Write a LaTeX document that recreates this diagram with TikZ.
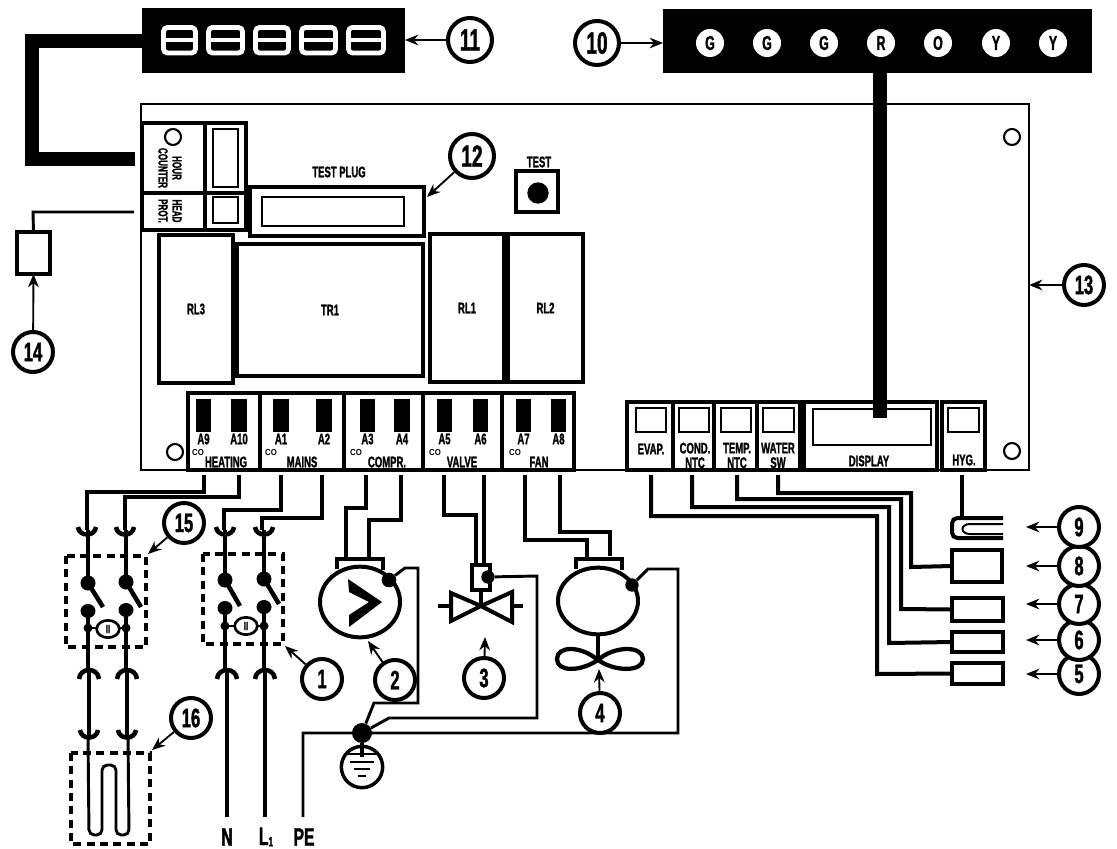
\documentclass[tikz,border=0pt]{standalone}
\usepackage{fontspec}
\setmainfont{Liberation Sans}
\newfontfamily\lab[FakeStretch=0.62,BoldFeatures={FakeBold=1.3}]{Liberation Sans}
\newfontfamily\labw[FakeStretch=0.9]{Liberation Sans}
\usetikzlibrary{arrows.meta,shapes.geometric}
\tikzset{
 wire/.style={line width=3pt,line cap=butt,line join=miter},
 thinwire/.style={line width=2.2pt,line join=miter},
 heavy/.style={line width=2.8pt,draw,fill=white},
 pane/.style={line width=1.4pt,draw},
 solid box/.style={fill=black,draw=none},
 cable/.style={line width=10pt,line join=miter},
 dbox/.style={line width=3pt,dash pattern=on 6pt off 4pt},
 tl/.style={font=\lab\bfseries\fontsize{11.5}{11}\selectfont,inner sep=0pt,outer sep=0pt,align=center},
 tlr/.style={font=\lab\bfseries\fontsize{9.8}{10.5}\selectfont,inner sep=0pt,outer sep=0pt,align=center,rotate=-90},
 tiny/.style={font=\labw\bfseries\fontsize{6.5}{6.5}\selectfont,inner sep=0pt},
 call/.style={circle,draw,line width=3pt,fill=white,minimum size=30pt,inner sep=0pt,font=\lab\bfseries\fontsize{20}{20}\selectfont},
 bigcall/.style={call,minimum size=33pt,font=\lab\bfseries\fontsize{23}{23}\selectfont},
 leader/.style={line width=1.4pt,-{Stealth[length=10pt,width=8pt]}},
 hole/.style={circle,draw,line width=1.6pt,minimum size=12pt,inner sep=0pt,fill=white},
 jdot/.style={circle,fill=black,inner sep=0pt},
 letter/.style={circle,fill=white,minimum size=21pt,inner sep=0pt,font=\lab\bfseries\fontsize{15}{15}\selectfont},
 bottomlab/.style={inner sep=0pt,font=\lab\bfseries\fontsize{19}{19}\selectfont}
}
\newcommand\bx[6]{\pgfmathsetmacro\bxw{(#4-#2)*0.75}\pgfmathsetmacro\bxh{(#5-#3)*0.75}%
 \node[#6,minimum width=\bxw pt,minimum height=\bxh pt,inner sep=0pt,outer sep=0pt] (#1) at ({(#2+#4)/2},{(#3+#5)/2}) {};}
\newcommand\upcup[2]{\draw[line width=3.4pt] ({#1-9},{#2}) .. controls ({#1-8},{#2+10}) and ({#1+8},{#2+10}) .. ({#1+9},{#2});}
\newcommand\dncup[2]{\draw[line width=3.4pt] ({#1-10},{#2+9}) .. controls ({#1-9},{#2-3}) and ({#1+9},{#2-3}) .. ({#1+10},{#2+9});}
\newcommand\pole[7]{% x, cup y, dot1 y, blade end x, blade end y, dot2 y, small y
 \draw[wire] (#1,#2) -- (#1,#3);
 \fill (#1,#3) circle (7.5);
 \draw[line width=3.4pt] (#1,#3) -- (#4,#5);
 \fill (#1,#6) ellipse (7.5 and 7);
 \fill (#1,#7) circle (4.5);
 \draw[wire] (#1,#6) -- (#1,670);
}
\newcommand\digit[2]{\draw[white,line width=3.6pt,rounded corners=3pt] ({#1+2.5},27.5) rectangle ({#2-2.5},53);
 \draw[white,line width=3.2pt] ({#1+3},40) -- ({#2-3},40);}
\begin{document}
\begin{tikzpicture}[x=0.75pt,y=-0.75pt]
\useasboundingbox (0,0) rectangle (1117,849);
\fill[white] (0,0) rectangle (1117,849);
% ---- board
\bx{board}{141}{104}{1029}{470}{draw,line width=1.1pt}
% ---- displays
\bx{hourdisp}{142}{8}{405}{73}{solid box}
\digit{161}{198}\digit{206}{245}\digit{253}{291}\digit{299}{338}\digit{346}{386}
\bx{leddisp}{663}{9}{1092}{73}{solid box}
\foreach \nm/\x/\t in {a/710/G,b/767/G,c/824/G,d/881/R,e/938/O,f/996/Y,g/1053/Y}
  \node[letter] (led\nm) at (\x,43) {\t};
% ---- hour counter block
\bx{hcblock}{142}{123}{246}{230}{heavy}
\draw[line width=3pt] (205,123) -- (205,230) (142,193) -- (246,193);
\bx{hcpane}{213}{129}{238}{187}{pane}
\bx{hppane}{213}{197}{238}{223}{pane}
\node[hole] (hchole) at (173,137) {};
\node[tlr] (hclabel) at (170,168) {HOUR\\COUNTER};
\node[tlr] (hplabel) at (170,211) {HEAD\\PROT.};
% ---- test plug
\node[tl] (tplabel) at (339,172) {TEST PLUG};
\bx{tplug}{250}{187}{424}{236}{heavy}
\bx{tplugin}{262}{197}{404}{226}{pane}
\node[tl] (testlabel) at (539,162) {TEST};
\bx{testbtn}{516}{171}{558}{212}{heavy}
\node[jdot,minimum size=16pt] (testdot) at (538,193) {};
% ---- relays
\bx{rl3}{159}{235}{233}{383}{heavy}\node[tl] at (rl3) {RL3};
\bx{tr1}{237}{244}{423}{376}{heavy}\node[tl] at (tr1) {TR1};
\bx{rl1}{430}{234}{504}{382}{heavy}\node[tl] at (rl1) {RL1};
\bx{rl2}{508}{234}{583}{382}{heavy}\node[tl] at (rl2) {RL2};
% ---- holes
\node[hole] (h1) at (175,452) {};
\node[hole] (h2) at (1012,451) {};
\node[hole] (h3) at (1012,137) {};
% ---- main terminal row
\bx{trow}{188}{393}{574}{470}{heavy}
\foreach \x in {260,344,423,502} \draw[line width=3pt] (\x,393) -- (\x,470);
\foreach \nm/\a/\b/\t in {A9/196/211/A9,A10/231/247/A10,A1/273/289/A1,A2/316/332/A2,A3/360/375/A3,A4/394/410/A4,A5/437/452/A5,A6/473/488/A6,A7/516/531/A7,A8/551/566/A8}{
  \bx{pin\nm}{\a}{399}{\b}{432}{solid box}
  \node[tl] (lab\nm) at ({(\a+\b)/2},439) {\t};
}
\foreach \x in {198,271,356,435,515} \node[tiny] at (\x,453) {CO};
\node[tl] at (226,462) {HEATING};
\node[tl] at (302,462) {MAINS};
\node[tl] at (387,462) {COMPR.};
\node[tl] at (462,462) {VALVE};
\node[tl] at (539,462) {FAN};
% ---- right terminal row
\bx{rrow}{627}{402}{800}{470}{heavy}
\foreach \x in {673,714,757} \draw[line width=3pt] (\x,402) -- (\x,470);
\bx{dblock}{804}{402}{937}{470}{heavy}
\bx{hblock}{942}{402}{985}{470}{heavy}
\bx{pe}{636}{408}{666}{432}{pane}
\bx{pc}{679}{408}{709}{432}{pane}
\bx{pt}{721}{408}{751}{432}{pane}
\bx{pw}{763}{408}{794}{432}{pane}
\bx{pd}{813}{409}{931}{445}{pane}
\bx{ph}{948}{408}{979}{432}{pane}
\node[tl] at (651,449) {EVAP.};
\node[tl] at (695,455.5) {COND.\\NTC};
\node[tl] at (737,455.5) {TEMP.\\NTC};
\node[tl] at (778,455.5) {WATER\\SW};
\node[tl] at (869,461) {DISPLAY};
\node[tl] at (964,460) {HYG.};
% ---- heavy cables
\coordinate (hcend) at (135,159);
\coordinate (dispend) at (880,418);
\draw[cable] (hourdisp.west |- 0,41) -- (32,41) -- (32,159) -- (hcend);
\draw[cable] (880,73) -- (dispend);
% ---- head prot sensor
\bx{s14}{17}{232}{50}{274}{heavy}
\coordinate (hp) at (134,212);
\draw[thinwire] (hp) -- (33,212) -- (s14.north);
% ---- terminal stubs
\foreach \n/\x in {tA9/204,tA10/239,tA1/281,tA2/322,tA3/366,tA4/401,tA5/444,tA6/484,tA7/525,tA8/560,tEv/651,tCo/692,tTe/737,tWa/778,tHy/962}
  \coordinate (\n) at (\x,475);
% ---- dashed boxes
\draw[dbox] (66,556) rectangle (146,647);
\draw[dbox] (203,554) rectangle (283,644);
\draw[dbox] (71,753) rectangle (150,844);
% ---- heating wires and switch
\draw[wire] (tA9) -- (204,492) -- (87,492) -- (87,530);
\draw[wire] (tA10) -- (239,497) -- (125,497) -- (125,530);
\upcup{87}{527}\upcup{125}{527}
\pole{88}{530}{583}{103}{607}{611}{628}
\pole{126}{530}{582}{141}{607}{610}{628}
\draw[line width=1.3pt] (88,628) -- (96,628) (120,628) -- (126,628);
\node[ellipse,draw,line width=2pt,minimum width=17pt,minimum height=13pt,inner sep=0pt,font=\lab\bfseries\fontsize{9}{9}\selectfont,fill=white] (ii15) at (108,629) {II};
\dncup{89}{670}\dncup{127}{670}
\draw[line width=2.4pt] (89,672) -- (89,735) (127,672) -- (127,735);
\upcup{89}{730}\upcup{127}{730}
% heater element
\draw[line width=2.2pt,rounded corners=4pt] (88,735) -- (89,835) -- (102,835) -- (102,765) -- (116,765) -- (116,835) -- (129,835) -- (128,735);
% ---- mains wires and switch
\draw[wire] (tA1) -- (281,510) -- (224,510) -- (224,530);
\draw[wire] (tA2) -- (322,518) -- (262,518) -- (262,530);
\upcup{225}{527}\upcup{264}{527}
\pole{225}{530}{580}{240}{606}{608}{626}
\pole{264}{530}{579}{279}{604}{607}{626}
\draw[line width=1.3pt] (225,626) -- (235,626) (258,626) -- (264,626);
\node[ellipse,draw,line width=2pt,minimum width=17pt,minimum height=13pt,inner sep=0pt,font=\lab\bfseries\fontsize{9}{9}\selectfont,fill=white] (ii1) at (246,626) {II};
\dncup{227}{670}\dncup{265}{670}
\coordinate (Nend) at (227,817);
\coordinate (Lend) at (265,817);
\coordinate (PEend) at (303,817);
\draw[line width=2.4pt] (227,672) -- (Nend) (265,672) -- (Lend);
\node[bottomlab] (Nlab) at (227,837) {N};
\node[bottomlab] (Llab) at (266,837) {L\raisebox{-0.1ex}{\fontsize{10}{10}\selectfont 1}};
\node[bottomlab] (PElab) at (304,837) {PE};
% ---- compressor
\draw[wire] (tA3) -- (366,508) -- (346,508) -- (346,558);
\draw[wire] (tA4) -- (401,520) -- (369,520) -- (369,558);
\draw[wire] (337,569) -- (337,559) -- (383,559) -- (383,570);
\node[ellipse,draw,line width=3pt,minimum width=60pt,minimum height=53pt,inner sep=0pt,fill=white] (comp) at (360,602) {};
\fill (348,579) -- (382,602) -- (349,627) -- (349,615) -- (369,602) -- (349,592) -- cycle;
\node[jdot,minimum size=11pt] (compdot) at (389,580) {};
% ---- valve
\draw[wire] (tA5) -- (444,515) -- (476,515) -- (476,565);
\draw[wire] (tA6) -- (484,565);
\bx{vbox}{472}{565}{490}{590}{heavy}
\node[jdot,minimum size=10pt] (valvedot) at (488,577) {};
\draw[wire] (vbox.south) -- (481,606);
\draw[wire,line join=miter] (481,606) -- (451,593) -- (451,621) -- (481,606) -- (512,592) -- (512,622) -- cycle;
\draw[wire] (438,606) -- (451,606) (512,606) -- (523,606);
% ---- fan
\draw[wire] (tA7) -- (525,540) -- (587,540) -- (587,560);
\draw[wire] (tA8) -- (560,532) -- (610,532) -- (610,556);
\draw[wire] (576,569) -- (576,559) -- (622,559) -- (622,570);
\node[ellipse,draw,line width=3pt,minimum width=60pt,minimum height=50pt,inner sep=0pt,fill=white] (fan) at (598,601) {};
\node[jdot,minimum size=10pt] (fandot) at (632,585) {};
\coordinate (hub) at (598,660);
\draw[wire] (fan.south) -- (hub);
\draw[line width=3.2pt] (hub) .. controls (580,645) and (557,646) .. (557,659) .. controls (557,672) and (580,672) .. (hub) .. controls (615,645) and (643,646) .. (643,659) .. controls (643,672) and (615,672) .. (hub);
% ---- earth
\node[jdot,minimum size=15pt] (earth) at (362,733) {};
\node[circle,draw,line width=2.6pt,minimum size=31pt,inner sep=0pt,fill=white] (gnd) at (362,767) {};
\draw[line width=2.6pt] (earth) -- (362,757);
\draw[line width=1.4pt] (345,754) -- (379,754);
\draw[line width=1.8pt] (350,762) -- (374,762) (354,769) -- (370,769) (358,776) -- (366,776);
\draw[thinwire] (earth) -- (374,703) -- (418,703) -- (418,568) -- (405,568) -- (compdot);
\draw[thinwire] (earth) -- (389,718) -- (537,718) -- (537,576) -- (valvedot);
\draw[thinwire] (PEend) -- (303,733) -- (678,733) -- (678,569) -- (648,569) -- (fandot);
% ---- sensors right
\bx{s8}{952}{550}{1002}{582}{heavy}
\bx{s7}{952}{598}{1003}{621}{heavy}
\bx{s6}{952}{632}{1003}{652}{heavy}
\bx{s5}{952}{663}{1003}{684}{heavy}
\draw[wire] (tEv) -- (651,516) -- (877,516) -- (877,674) -- (s5.west);
\draw[wire] (tCo) -- (692,507) -- (889,507) -- (889,643) -- (s6.west);
\draw[wire] (tTe) -- (737,499) -- (901,499) -- (901,609) -- (s7.west);
\draw[wire] (tWa) -- (778,493) -- (911,493) -- (911,567) -- (s8.west);
\coordinate (hyg) at (962,517);
\draw[wire] (tHy) -- (hyg);
\draw[line width=3pt,rounded corners=4pt] (1003,518) -- (952,518) -- (952,538) -- (1003,538);
\draw[line width=1.5pt] (1003,524) -- (970,524) .. controls (960,524) and (960,534) .. (970,534) -- (1003,534);
% ---- callouts
\node[call] (c1) at (322,679) {1};
\node[call] (c2) at (395,680) {2};
\node[call] (c3) at (484,678) {3};
\node[call] (c4) at (600,713) {4};
\node[call] (c5) at (1079,674) {5};
\node[call] (c6) at (1079,640) {6};
\node[call] (c7) at (1079,604) {7};
\node[call] (c8) at (1079,566) {8};
\node[call] (c9) at (1079,527) {9};
\node[bigcall] (c10) at (597,43) {10};
\node[bigcall] (c11) at (470,40) {11};
\node[bigcall] (c12) at (472,156) {12};
\node[call] (c13) at (1084,285) {13};
\node[call] (c14) at (33,352) {14};
\node[call] (c15) at (184,523) {15};
\node[call] (c16) at (191,718) {16};
\draw[leader] (c1) -- (285,646);
\draw[leader] (c2) -- (368,641);
\draw[leader] (c3) -- (485,637);
\draw[leader] (c4) -- (599,669);
\draw[leader] (c5) -- (1026,674);
\draw[leader] (c6) -- (1026,640);
\draw[leader] (c7) -- (1026,604);
\draw[leader] (c8) -- (1026,566);
\draw[leader] (c9) -- (1026,527);
\draw[leader] (c10) -- (leddisp.west |- c10);
\draw[leader] (c11) -- (hourdisp.east |- c11);
\draw[leader] (c12) -- (427,197);
\draw[leader] (c13) -- (board.east |- c13);
\draw[leader] (c14) -- (s14.south);
\draw[leader] (c15) -- (148,554);
\draw[leader] (c16) -- (152,750);
\end{tikzpicture}
\end{document}
